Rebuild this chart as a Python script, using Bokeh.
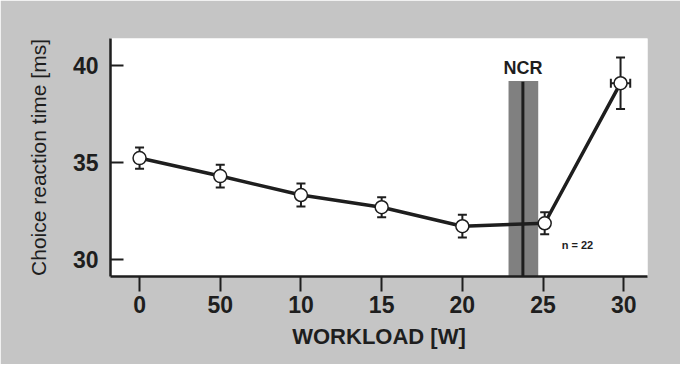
from bokeh.plotting import figure
from bokeh.models import (ColumnDataSource, Whisker, TeeHead, Label, FixedTicker,
                          Range1d)
from bokeh.embed import file_html
from bokeh.resources import INLINE

# ---- data ----
workload = [0, 5, 10, 15, 20, 25.1, 29.8]
reaction = [35.22, 34.29, 33.31, 32.68, 31.70, 31.85, 39.09]
err_y = [0.55, 0.59, 0.59, 0.52, 0.59, 0.57, 1.33]
err_x_last = 0.6

x_ticks = [0, 5, 10, 15, 20, 25, 30]
x_tick_labels = ["0", "50", "10", "15", "20", "25", "30"]
y_ticks = [30, 35, 40]
y_tick_labels = ["30", "35", "40"]

ncr_x = 23.75
ncr_lo, ncr_hi = 22.86, 24.70
ncr_top = 39.21
n_text = "n = 22"

X0, X1 = -1.80, 31.47
Y0, Y1 = 29.10, 41.40

BG = "#c5c5c5"
INK = "#1e1e1e"
FONT = "Liberation Sans"

p = figure(width=680, height=364, output_backend="svg", toolbar_location=None,
           x_range=Range1d(X0, X1), y_range=Range1d(Y0, Y1),
           min_border_left=110, min_border_right=33,
           min_border_top=38, min_border_bottom=88)
p.border_fill_color = BG
p.background_fill_color = "white"
p.outline_line_color = None
p.grid.visible = False

# NCR band + line
p.quad(left=[ncr_lo], right=[ncr_hi], bottom=[Y0], top=[ncr_top],
       fill_color="#808080", line_color=None)
p.segment(x0=[ncr_x], y0=[Y0], x1=[ncr_x], y1=[ncr_top - 0.05],
          line_color=INK, line_width=3)

src = ColumnDataSource(dict(
    x=workload, y=reaction,
    lo=[r - e for r, e in zip(reaction, err_y)],
    hi=[r + e for r, e in zip(reaction, err_y)]))

# error bars (drawn beneath the markers)
w = Whisker(base="x", upper="hi", lower="lo", source=src,
            line_color=INK, line_width=2,
            upper_head=TeeHead(size=9, line_width=2, line_color=INK),
            lower_head=TeeHead(size=9, line_width=2, line_color=INK))
w.level = "underlay"
p.add_layout(w)

src_x = ColumnDataSource(dict(y=[reaction[-1]],
                              lo=[workload[-1] - err_x_last],
                              hi=[workload[-1] + err_x_last]))
wx = Whisker(base="y", upper="hi", lower="lo", dimension="width", source=src_x,
             line_color=INK, line_width=2,
             upper_head=TeeHead(size=9, line_width=2, line_color=INK),
             lower_head=TeeHead(size=9, line_width=2, line_color=INK))
wx.level = "underlay"
p.add_layout(wx)

p.line("x", "y", source=src, line_color=INK, line_width=3.5)
p.scatter("x", "y", source=src, size=13, fill_color="white",
          line_color=INK, line_width=1.5)

# annotations
p.add_layout(Label(x=ncr_x, y=39.85, text="NCR", text_align="center",
                   text_baseline="alphabetic", text_font=FONT,
                   text_font_style="bold", text_font_size="18px", text_color=INK))
p.add_layout(Label(x=26.15, y=30.75, text=n_text, text_align="left",
                   text_baseline="middle", text_font=FONT,
                   text_font_style="bold", text_font_size="11px", text_color=INK))

# axes
xa = p.xaxis[0]
xa.ticker = FixedTicker(ticks=x_ticks)
xa.major_label_overrides = {t: l for t, l in zip(x_ticks, x_tick_labels)}
xa.minor_tick_line_color = None
xa.major_tick_in = 0
xa.major_tick_out = 15
xa.major_tick_line_width = 2
xa.major_tick_line_color = INK
xa.axis_line_width = 2.5
xa.axis_line_color = INK
xa.major_label_standoff = 4
xa.major_label_text_font = FONT
xa.major_label_text_font_style = "bold"
xa.major_label_text_font_size = "23px"
xa.major_label_text_color = INK
xa.axis_label = "WORKLOAD [W]"
xa.axis_label_text_font = FONT
xa.axis_label_text_font_style = "bold"
xa.axis_label_text_font_size = "22px"
xa.axis_label_text_color = INK
xa.axis_label_standoff = 8

ya = p.yaxis[0]
ya.ticker = FixedTicker(ticks=y_ticks)
ya.major_label_overrides = {t: l for t, l in zip(y_ticks, y_tick_labels)}
ya.minor_tick_line_color = None
ya.major_tick_in = 13
ya.major_tick_out = 0
ya.major_tick_line_width = 2
ya.major_tick_line_color = INK
ya.axis_line_width = 2.5
ya.axis_line_color = INK
ya.major_label_standoff = 12
ya.major_label_text_font = FONT
ya.major_label_text_font_style = "bold"
ya.major_label_text_font_size = "23px"
ya.major_label_text_color = INK
ya.axis_label = "Choice reaction time [ms]"
ya.axis_label_text_font = FONT
ya.axis_label_text_font_style = "normal"
ya.axis_label_text_font_size = "21px"
ya.axis_label_text_color = INK
ya.axis_label_standoff = 20

open("out.html", "w").write(file_html(p, INLINE))
